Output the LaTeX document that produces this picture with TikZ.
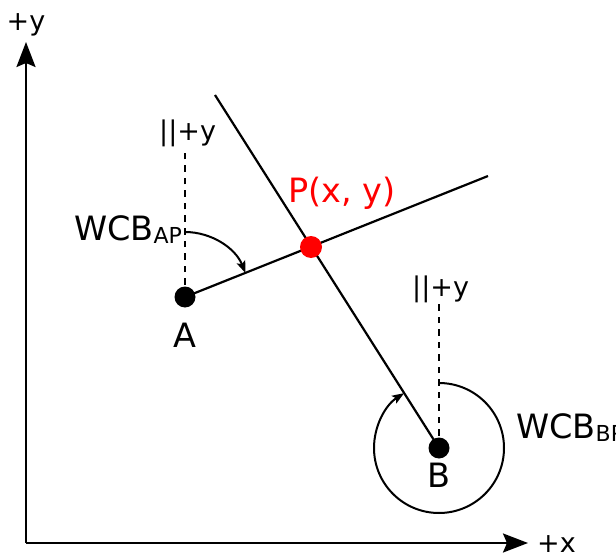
\documentclass[tikz,border=0pt]{standalone}
\usepackage{fontspec}
\setmainfont{DejaVu Sans}
\usetikzlibrary{arrows.meta,calc}
\begin{document}
\begin{tikzpicture}[x=1pt,y=1pt,
  ln/.style={line width=2.2pt},
  axisline/.style={line width=2.2pt,-{Stealth[length=25pt,width=19pt,inset=4pt]}},
  dashline/.style={line width=2pt,dash pattern=on 6.5pt off 6pt},
  arcarrow/.style={line width=2pt,-{Stealth[length=12pt,width=9pt,inset=2.5pt]}},
  dot/.style={circle,fill=black,inner sep=0pt,minimum size=21pt},
  reddot/.style={circle,fill=red,inner sep=0pt,minimum size=22pt},
  big/.style={font=\fontsize{33.5}{40}\selectfont,inner sep=0pt},
  small/.style={font=\fontsize{27}{32}\selectfont,inner sep=0pt}]
\useasboundingbox (0,0) rectangle (616,558);
\newcommand{\sub}[1]{\raisebox{-3pt}{\fontsize{22}{26}\selectfont #1}}
% coordinates
\coordinate (O) at (26,15);
\coordinate (Ytip) at (26,516);
\coordinate (Xtip) at (528,15);
\coordinate (A) at (185,261);
\coordinate (P) at (311,311);
\coordinate (B) at (439,110);
\coordinate (E1) at (488,382);
\coordinate (T1) at (215,463);
\coordinate (Atop) at (185,410);
\coordinate (Btop) at (439,258);
% axes
\draw[axisline] (O) -- (Ytip);
\draw[axisline] (O) -- (Xtip);
\node[small,anchor=base] (ylab) at (26,527) {+y};
\node[small,anchor=base west] (xlab) at (537,6) {+x};
% lines
\draw[ln] (A) -- (E1);
\draw[ln] (T1) -- (B);
\draw[dashline] (A) -- (Atop);
\draw[dashline] (B) -- (Btop);
% arcs
\draw[arcarrow] ($(A)+(0,65)$) arc[start angle=90,end angle=21.7,radius=65];
\draw[arcarrow] ($(B)+(0,65)$) arc[start angle=90,end angle=-237.5,radius=65];
% dots
\node[dot] (Adot) at (A) {};
\node[dot] (Bdot) at (B) {};
\node[reddot] (Pdot) at (P) {};
% labels
\node[big,anchor=base] (Alab) at (185,211) {A};
\node[big,anchor=base] (Blab) at (439,71) {B};
\node[big,text=red,anchor=base west] (Plab) at (288,355) {P(x, y)};
\node[small,anchor=base west] (Ay) at (159,417) {||+y};
\node[small,anchor=base west] (By) at (412,262) {||+y};
\node[big,anchor=base west] (wcbap) at (74,318) {WCB\sub{AP}};
\node[big,anchor=base west] (wcbbp) at (516,120) {WCB\sub{BP}};
\end{tikzpicture}
\end{document}
